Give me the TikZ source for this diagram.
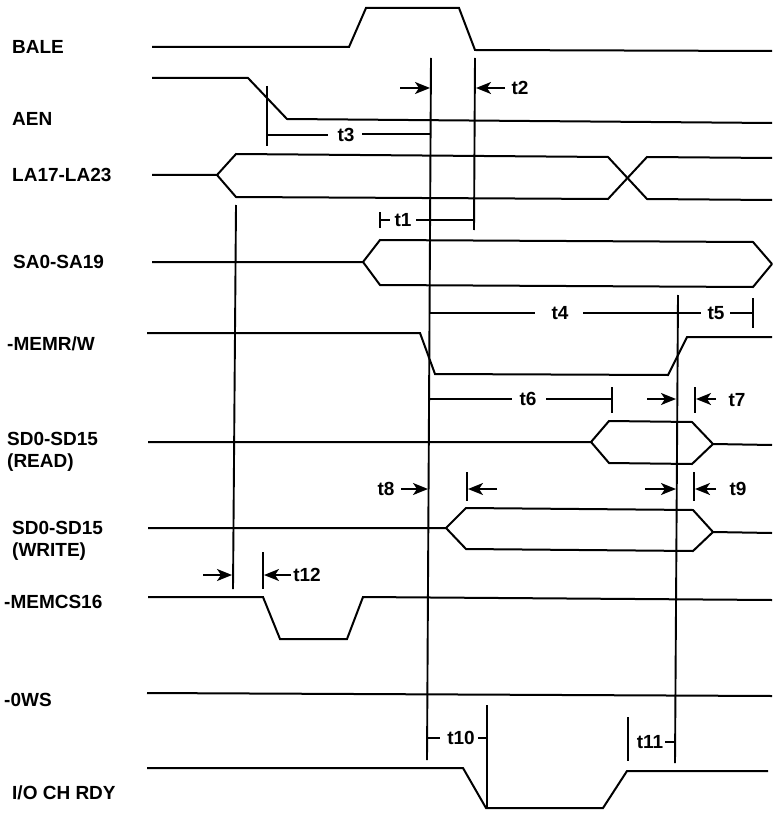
\documentclass[tikz,border=0pt]{standalone}
\usepackage{fontspec}
\setmainfont{Liberation Sans}
\usetikzlibrary{arrows.meta}
\begin{document}
\begin{tikzpicture}[x=1pt,y=-1pt,
  sig/.style={line width=2pt, line join=miter},
  mark line/.style={line width=1.9pt},
  lbl/.style={anchor=west, inner sep=0pt, font=\bfseries\fontsize{19}{22}\selectfont, align=left},
  tlab/.style={inner sep=0pt, font=\bfseries\fontsize{19}{22}\selectfont},
  arr/.style={line width=1.9pt, -{Stealth[length=15pt,width=12pt,inset=4pt]}}]
\useasboundingbox (0,0) rectangle (772,813);
% signal names
\node[lbl] (nBALE) at (12,47) {BALE};
\node[lbl] (nAEN) at (12,119) {AEN};
\node[lbl] (nLA) at (12,175) {LA17-LA23};
\node[lbl] (nSA) at (13,262) {SA0-SA19};
\node[lbl] (nMEMR) at (7,344) {-MEMR/W};
\node[lbl] (nRD) at (7,452) {SD0-SD15\\(READ)};
\node[lbl] (nWR) at (12,541) {SD0-SD15\\(WRITE)};
\node[lbl] (nCS) at (4,602) {-MEMCS16};
\node[lbl] (nWS) at (4,700) {-0WS};
\node[lbl] (nIO) at (12,793) {I/O CH RDY};
% waveforms
\draw[sig] (152,47) -- (349,47) -- (366,8) -- (459,8) -- (475,50) -- (772,51);
\draw[sig] (152,78) -- (248,78) -- (287,119) -- (772,123);
\draw[sig] (152,175) -- (217,175) -- (236,154) -- (608,157) -- (647,199) -- (772,200);
\draw[sig] (217,175) -- (236,197) -- (608,199) -- (647,157) -- (772,158);
\draw[sig] (152,262) -- (363,262) -- (380,240) -- (753,242) -- (772,264);
\draw[sig] (363,262) -- (380,285) -- (753,287) -- (772,264);
\draw[sig] (147,333) -- (420,333) -- (435,374) -- (668,375) -- (687,337) -- (772,337);
\draw[sig] (148,442) -- (591,442) -- (609,421) -- (692,422) -- (713,444) -- (772,445);
\draw[sig] (591,442) -- (609,463) -- (692,464) -- (713,444);
\draw[sig] (148,528) -- (446,528) -- (466,508) -- (693,510) -- (713,532) -- (772,533);
\draw[sig] (446,528) -- (466,549) -- (693,551) -- (713,532);
\draw[sig] (148,597) -- (263,597) -- (280,639) -- (347,639) -- (363,597) -- (772,600);
\draw[sig] (147,693) -- (772,696);
\draw[sig] (147,768) -- (463,768) -- (486,808) -- (603,808) -- (627,771) -- (768,771);
% reference verticals
\coordinate (v1t) at (431,58); \coordinate (v1b) at (427,760);
\draw[mark line] (v1t) -- (v1b);
\draw[mark line] (475,58) -- (474,230);
\draw[mark line] (236,205) -- (233,589);
\draw[mark line] (678,295) -- (675,763);
\draw[mark line] (267,86) -- (267,146);
\draw[mark line] (487,705) -- (487,808);
% t1 .. t12
\node[tlab] (t3) at (346,135) {t3};
\draw[mark line] (267,135) -- (328,135);
\draw[mark line] (362,134) -- (430,134);
\node[tlab] (t2) at (520,88) {t2};
\draw[arr] (400,88) -- (430,88);
\draw[arr] (505,88) -- (476,88);
\node[tlab] (t1) at (403,220) {t1};
\draw[mark line] (380,212) -- (380,228);
\draw[mark line] (380,220) -- (390,220);
\draw[mark line] (416,220) -- (474,220);
\node[tlab] (t4) at (560,313) {t4};
\draw[mark line] (430,313) -- (535,313);
\draw[mark line] (583,313) -- (677,313);
\node[tlab] (t5) at (716,313) {t5};
\draw[mark line] (678,313) -- (701,313);
\draw[mark line] (730,313) -- (753,313);
\draw[mark line] (753,298) -- (753,328);
\node[tlab] (t6) at (528,399) {t6};
\draw[mark line] (430,399) -- (512,399);
\draw[mark line] (546,399) -- (612,399);
\draw[mark line] (612,387) -- (612,413);
\node[tlab] (t7) at (737,400) {t7};
\draw[arr] (647,399) -- (676,399);
\draw[mark line] (695,387) -- (695,413);
\draw[arr] (716,399) -- (696,399);
\node[tlab] (t8) at (386,489) {t8};
\draw[arr] (401,489) -- (428,489);
\draw[mark line] (467,472) -- (467,501);
\draw[arr] (497,489) -- (468,489);
\node[tlab] (t9) at (738,489) {t9};
\draw[arr] (645,489) -- (676,489);
\draw[mark line] (694,472) -- (694,501);
\draw[arr] (716,489) -- (695,489);
\node[tlab] (t12) at (307,575) {t12};
\draw[arr] (203,575) -- (232,575);
\draw[mark line] (263,552) -- (263,589);
\draw[arr] (291,575) -- (264,575);
\node[tlab] (t10) at (461,738) {t10};
\draw[mark line] (427,738) -- (440,738);
\draw[mark line] (478,738) -- (487,738);
\node[tlab] (t11) at (650,742) {t11};
\draw[mark line] (628,717) -- (628,761);
\draw[mark line] (665,742) -- (676,742);
\end{tikzpicture}
\end{document}
